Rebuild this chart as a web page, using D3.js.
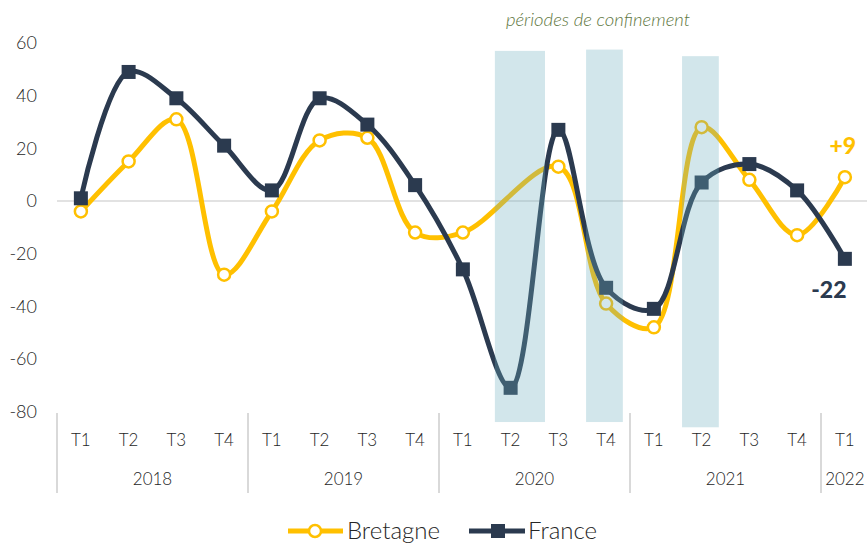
<!DOCTYPE html>
<html>
<head>
<meta charset="utf-8">
<script src="https://cdn.jsdelivr.net/npm/d3@7"></script>
<style>
  body { margin: 0; background: #fff; }
  text { font-family: Lato, "Open Sans", sans-serif; font-weight: 300; }
</style>
</head>
<body>
<script>
// chart data
var years = ["2018", "2019", "2020", "2021", "2022"];
var quarters = ["T1","T2","T3","T4","T1","T2","T3","T4","T1","T2","T3","T4","T1","T2","T3","T4","T1"];
var quarterYear = [0,0,0,0,1,1,1,1,2,2,2,2,3,3,3,3,4];
var bretagne = [-4, 15, 31, -28, -4, 23, 24, -12, -12, null, 13, -39, -48, 28, 8, -13, 9];
var france = [1, 49, 39, 21, 4, 39, 29, 6, -26, -71, 27, -33, -41, 7, 14, 4, -22];
var yTicks = [60, 40, 20, 0, -20, -40, -60, -80];
// confinement periods, in quarter units along the axis
var confFrom = [9.17, 11.08, 13.09];
var confTo = [10.22, 11.85, 13.86];
var confTop = [57, 57.5, 55];
var confBottom = [-84, -84, -86];

var width = 867, height = 543;
var left = 57, bandW = 47.75;
var textCol = "#262626";

var svg = d3.select("body").append("svg")
  .attr("width", width)
  .attr("height", height);

// scales
var x = d3.scaleLinear().domain([0, 17]).range([left, left + bandW * 17]);
var y = d3.scaleLinear().domain([-80, 60]).range([411.5, 43]);
var xc = function(i){ return x(i + 0.5); };

// y axis labels
svg.append("g").selectAll("text")
  .data(yTicks).enter()
  .append("text")
  .attr("x", 37)
  .attr("y", d => y(d))
  .attr("dy", "0.35em")
  .attr("text-anchor", "end")
  .attr("fill", textCol)
  .style("font-size", "18px")
  .text(d => d);

// zero line
svg.append("line")
  .attr("x1", left).attr("x2", width)
  .attr("y1", y(0)).attr("y2", y(0))
  .attr("stroke", "#d9d9d9")
  .attr("stroke-width", 1.5);

// x axis: quarter labels
svg.append("g").selectAll("text")
  .data(quarters).enter()
  .append("text")
  .attr("x", (d, i) => xc(i))
  .attr("y", 440)
  .attr("dy", "0.35em")
  .attr("text-anchor", "middle")
  .attr("fill", textCol)
  .style("font-size", "17px")
  .text(d => d);

// year labels + separators
var yearStart = years.map(function(yr, k){ return quarterYear.indexOf(k); });
var yearEnd = years.map(function(yr, k){ return quarterYear.lastIndexOf(k) + 1; });

svg.append("g").selectAll("text")
  .data(years).enter()
  .append("text")
  .attr("x", (d, k) => (x(yearStart[k]) + x(yearEnd[k])) / 2)
  .attr("y", 479)
  .attr("dy", "0.35em")
  .attr("text-anchor", "middle")
  .attr("fill", textCol)
  .style("font-size", "17px")
  .text(d => d);

svg.append("g").selectAll("line")
  .data(yearStart).enter()
  .append("line")
  .attr("x1", d => x(d)).attr("x2", d => x(d))
  .attr("y1", 413).attr("y2", 493)
  .attr("stroke", "#d9d9d9")
  .attr("stroke-width", 2);

// lines
var line = d3.line()
  .x((d, i) => xc(i))
  .y(d => y(d))
  .curve(d3.curveCatmullRom.alpha(0.5));

// Bretagne has no value for 2020 T2: the curve runs across it
var bData = bretagne.map((v, i) => ({v: v, i: i})).filter(d => d.v != null);
var lineB = d3.line()
  .x(d => xc(d.i))
  .y(d => y(d.v))
  .curve(d3.curveCatmullRom.alpha(0.5));

svg.append("path")
  .datum(bData)
  .attr("fill", "none")
  .attr("stroke", "#ffc000")
  .attr("stroke-width", 5)
  .attr("d", lineB);

svg.append("g").selectAll("circle")
  .data(bData).enter()
  .append("circle")
  .attr("cx", d => xc(d.i))
  .attr("cy", d => y(d.v))
  .attr("r", 6)
  .attr("fill", "#fff")
  .attr("stroke", "#ffc000")
  .attr("stroke-width", 2.5);

svg.append("path")
  .datum(france)
  .attr("fill", "none")
  .attr("stroke", "#2b3a4f")
  .attr("stroke-width", 5)
  .attr("d", line);

svg.append("g").selectAll("rect")
  .data(france).enter()
  .append("rect")
  .attr("x", (d, i) => xc(i) - 7)
  .attr("y", d => y(d) - 7)
  .attr("width", 14)
  .attr("height", 14)
  .attr("fill", "#2b3a4f");

// confinement shading drawn over the lines
svg.append("g").selectAll("rect")
  .data(confFrom).enter()
  .append("rect")
  .attr("x", (d, k) => x(d))
  .attr("width", (d, k) => x(confTo[k]) - x(d))
  .attr("y", (d, k) => y(confTop[k]))
  .attr("height", (d, k) => y(confBottom[k]) - y(confTop[k]))
  .attr("fill", "#6eaebe")
  .attr("fill-opacity", 0.31);

svg.append("text")
  .attr("x", 598)
  .attr("y", 20)
  .attr("dy", "0.35em")
  .attr("text-anchor", "middle")
  .attr("fill", "#5f7842")
  .style("font-size", "18.5px")
  .style("font-style", "italic")
  .text("périodes de confinement");

// end labels
var last = quarters.length - 1;
svg.append("text")
  .attr("x", xc(last) - 2)
  .attr("y", y(bretagne[last]) - 31)
  .attr("dy", "0.35em")
  .attr("text-anchor", "middle")
  .attr("fill", "#ffc000")
  .style("font-size", "23px")
  .style("font-weight", "900")
  .text("+" + bretagne[last]);

svg.append("text")
  .attr("x", xc(last) - 16)
  .attr("y", y(france[last]) + 31)
  .attr("dy", "0.35em")
  .attr("text-anchor", "middle")
  .attr("fill", "#2b3a4f")
  .style("font-size", "23px")
  .style("font-weight", "900")
  .text(france[last]);

// legend
var lg = svg.append("g");
lg.append("line").attr("x1", 288).attr("x2", 343).attr("y1", 531).attr("y2", 531)
  .attr("stroke", "#ffc000").attr("stroke-width", 5);
lg.append("circle").attr("cx", 315).attr("cy", 531).attr("r", 6)
  .attr("fill", "#fff").attr("stroke", "#ffc000").attr("stroke-width", 2.5);
lg.append("text").attr("x", 347).attr("y", 531).attr("dy", "0.35em")
  .attr("fill", textCol).style("font-size", "24px").text("Bretagne");

lg.append("line").attr("x1", 469).attr("x2", 525).attr("y1", 531).attr("y2", 531)
  .attr("stroke", "#2b3a4f").attr("stroke-width", 5);
lg.append("rect").attr("x", 491).attr("y", 524).attr("width", 14).attr("height", 14)
  .attr("fill", "#2b3a4f");
lg.append("text").attr("x", 528).attr("y", 531).attr("dy", "0.35em")
  .attr("fill", textCol).style("font-size", "24px").text("France");
</script>
</body>
</html>
